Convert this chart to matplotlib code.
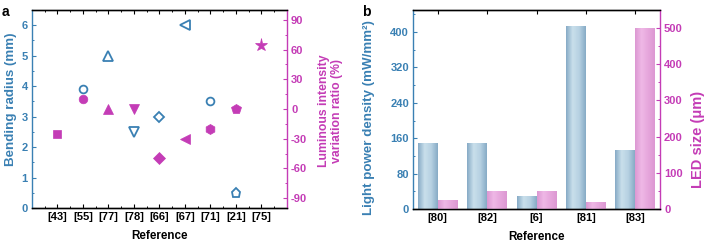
import numpy as np
import matplotlib
matplotlib.use("Agg")
import matplotlib.pyplot as plt
from matplotlib.ticker import MultipleLocator
from matplotlib.colors import LinearSegmentedColormap

plt.rcParams["font.family"] = ["Liberation Sans", "DejaVu Sans"]
plt.rcParams["font.weight"] = "bold"
plt.rcParams["axes.labelweight"] = "bold"
plt.rcParams["axes.unicode_minus"] = False

BLUE = "#3a80b3"
MAG = "#c43cb6"

# panel a: bending radius (left) and luminous intensity variation (right)
refs_a = ["[43]", "[55]", "[77]", "[78]", "[66]", "[67]", "[71]", "[21]", "[75]"]
bend_radius = [None, 3.9, 5.0, 2.5, 3.0, 6.0, 3.5, 0.5, None]
bend_markers = [None, "o", "^", "v", "D", "<", "o", "p", None]
lum_ratio = [-25, 10, 0, 0, -50, -30, -20, 0, 65]
lum_markers = ["s", "o", "^", "v", "D", "<", "h", "p", "*"]

# panel b: light power density (left) and LED size (right)
refs_b = ["[80]", "[82]", "[6]", "[81]", "[83]"]
power_density = [150, 149, 29, 413, 134]
led_size = [24, 49, 49, 20, 500]

fig = plt.figure(figsize=(7.05, 2.43), dpi=100)
fs = 8.0

ms_hollow = {"o": 5.6, "^": 7, "v": 7, "<": 7, "D": 5.2, "p": 6.8}
ms_filled = {"s": 5.6, "o": 6.2, "^": 7.2, "v": 7.2, "<": 7.2, "D": 6.0,
             "h": 7.2, "p": 7.4, "*": 9.5}


def style_ticks(ax):
    ax.tick_params(direction="in", which="both", top=True, labelsize=fs, pad=3)
    ax.tick_params(which="major", length=3, width=0.8)
    ax.tick_params(which="minor", length=1.6, width=0.7)


def style_twin(ax):
    ax.tick_params(direction="in", which="both", labelsize=fs, colors=MAG, pad=3)
    ax.tick_params(which="major", length=3, width=0.8)
    ax.tick_params(which="minor", length=1.6, width=0.7)


def color_spines(a, a2):
    a.spines["left"].set_color(BLUE)
    a.spines["right"].set_visible(False)
    a2.spines["left"].set_visible(False)
    a2.spines["right"].set_color(MAG)
    a.spines["bottom"].set_color("#333333")
    a.spines["top"].set_color("#333333")
    for s in ("left", "right", "top", "bottom"):
        a.spines[s].set_linewidth(1.0)
        a2.spines[s].set_linewidth(1.0)


# ---- panel a
ax = fig.add_axes([0.0454, 0.144, 0.3616, 0.815])
ax2 = ax.twinx()
x = np.arange(1, len(refs_a) + 1)
for xi, v, m in zip(x, bend_radius, bend_markers):
    if v is None:
        continue
    ax.plot(xi, v, marker=m, ms=ms_hollow[m], mfc="none", mec=BLUE, mew=1.3,
            ls="none")
for xi, v, m in zip(x, lum_ratio, lum_markers):
    ax2.plot(xi, v, marker=m, ms=ms_filled[m], mfc=MAG, mec=MAG, mew=0.5,
             ls="none")

ax.set_xlim(0, 10)
ax.set_ylim(0, 6.5)
ax2.set_ylim(-100, 100)
ax.set_xticks(x)
ax.set_xticklabels(refs_a)
ax.xaxis.set_minor_locator(MultipleLocator(0.5))
ax.yaxis.set_major_locator(MultipleLocator(1))
ax.yaxis.set_minor_locator(MultipleLocator(0.5))
ax2.yaxis.set_major_locator(MultipleLocator(30))
ax2.yaxis.set_minor_locator(MultipleLocator(15))
style_ticks(ax)
style_twin(ax2)
ax.tick_params(axis="y", which="both", colors=BLUE)
ax.set_ylabel("Bending radius (mm)", color=BLUE, fontsize=9.6)
ax.yaxis.set_label_coords(-0.06, 0.55)
ax2.set_ylabel("Luminous intensity\nvariation ratio (%)", color=MAG,
               fontsize=8.8, linespacing=1.2)
ax2.yaxis.set_label_coords(1.12, 0.49)
ax.set_xlabel("Reference", fontsize=8.4, labelpad=5.5)
color_spines(ax, ax2)
fig.text(0.003, 0.978, "a", fontsize=10, fontweight="bold", va="top")

# ---- panel b
bx = fig.add_axes([0.586, 0.140, 0.350, 0.819])
bx2 = bx.twinx()
xb = np.arange(len(refs_b))
w = 0.4
blue_cmap = LinearSegmentedColormap.from_list(
    "bb", ["#87abc6", "#c9dfeb", "#b6d1e2", "#87abc6"])
pink_cmap = LinearSegmentedColormap.from_list(
    "pp", ["#dc98d2", "#efb8e6", "#e6a6dc", "#dc98d2"])
grad = np.linspace(0, 1, 64).reshape(1, -1)


def gradient_bars(a, xs, heights, cmap):
    bars = a.bar(xs, heights, width=w, color="none", edgecolor="none", zorder=2)
    for b in bars:
        x0, y0 = b.get_x(), b.get_y()
        im = a.imshow(grad, cmap=cmap, aspect="auto", zorder=2,
                      extent=[x0, x0 + b.get_width(), y0, y0 + b.get_height()])
        im.set_clip_path(b)
    return bars


gradient_bars(bx, xb - w / 2, power_density, blue_cmap)
gradient_bars(bx2, xb + w / 2, led_size, pink_cmap)
bx.set_xlim(-0.5, 4.5)
bx.set_ylim(0, 450)
bx2.set_ylim(0, 550)
bx.set_xticks(xb)
bx.set_xticklabels(refs_b)
bx.yaxis.set_major_locator(MultipleLocator(80))
bx.yaxis.set_minor_locator(MultipleLocator(40))
bx2.yaxis.set_major_locator(MultipleLocator(100))
bx2.yaxis.set_minor_locator(MultipleLocator(50))
style_ticks(bx)
bx.tick_params(axis="x", which="major", bottom=False)
bx.tick_params(axis="y", which="both", colors=BLUE)
style_twin(bx2)
bx.set_ylabel("Light power density (mW/mm²)", color=BLUE, fontsize=9.6)
bx.yaxis.set_label_coords(-0.154, 0.46)
bx2.set_ylabel("LED size (μm)", color=MAG, fontsize=10.5)
bx2.yaxis.set_label_coords(1.128, 0.35)
bx.set_xlabel("Reference", fontsize=8.4, labelpad=6)
color_spines(bx, bx2)
fig.text(0.513, 0.978, "b", fontsize=10, fontweight="bold", va="top")

fig.savefig("out.png", dpi=100)
